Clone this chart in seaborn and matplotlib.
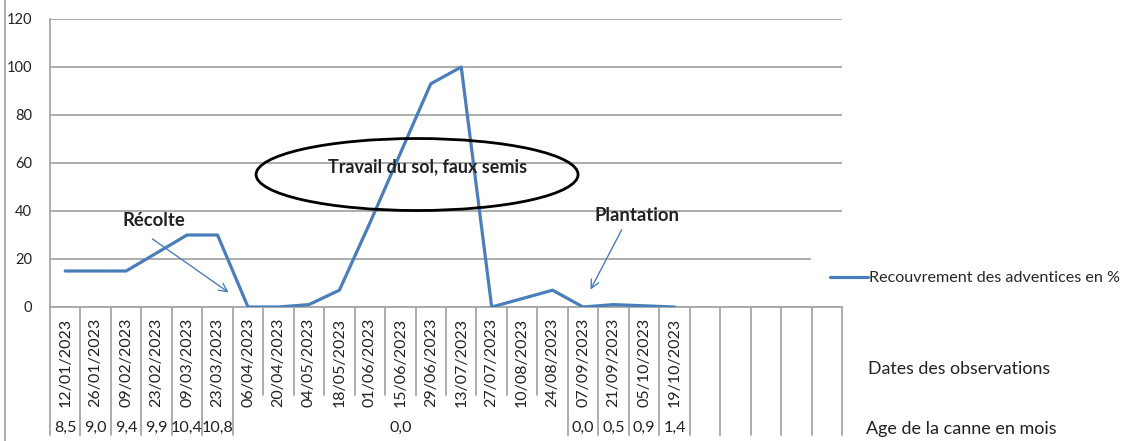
import pandas as pd
import matplotlib
matplotlib.use("Agg")
import matplotlib.pyplot as plt
import matplotlib.transforms as mtrans
from matplotlib.patches import Ellipse
import seaborn as sns

# data
dates = ["12/01/2023", "26/01/2023", "09/02/2023", "23/02/2023", "09/03/2023",
         "23/03/2023", "06/04/2023", "20/04/2023", "04/05/2023", "18/05/2023",
         "01/06/2023", "15/06/2023", "29/06/2023", "13/07/2023", "27/07/2023",
         "10/08/2023", "24/08/2023", "07/09/2023", "21/09/2023", "05/10/2023",
         "19/10/2023"]
recouvrement = [15, 15, 15, 22.5, 30, 30, 0, 0, 1, 7, 35, 64, 93, 100, 0,
                3.5, 7, 0, 1, 0.5, 0]
n_empty = 5  # empty category slots after the last date
age_before = ["8,5", "9,0", "9,4", "9,9", "10,4", "10,8"]
age_merged = "0,0"
age_after = ["0,0", "0,5", "0,9", "1,4"]
series_name = "Recouvrement des adventices en %"

sns.set_style("white")
plt.rcParams["font.family"] = ["Lato", "DejaVu Sans"]

W, H = 1121, 441
fig = plt.figure(figsize=(W / 100, H / 100), dpi=100)
ax = fig.add_axes([50 / W, (H - 307) / H, 792 / W, 288 / H])

df = pd.DataFrame({"pos": range(len(dates)), "val": recouvrement})
sns.lineplot(data=df, x="pos", y="val", ax=ax, color="#4A7EBB", lw=2.3,
             label=series_name, zorder=3)

n_cat = len(dates) + n_empty
ax.set_xlim(-0.5, n_cat - 0.5)
ax.set_ylim(0, 120)
ax.set_yticks(range(0, 121, 20))
ax.grid(axis="y", color="#A6A6A6", lw=1.3)
ax.grid(axis="x", visible=False)
for s in ["top", "right"]:
    ax.spines[s].set_visible(False)
ax.spines["left"].set_color("#A6A6A6")
ax.spines["bottom"].set_color("#A6A6A6")
ax.spines["left"].set_lw(1.3)
ax.spines["bottom"].set_lw(1.3)
ax.tick_params(axis="y", length=5, color="#A6A6A6", width=1.3, labelsize=10.5,
               labelcolor="#222222", pad=8)
ax.set_xlabel("")
ax.set_ylabel("")

# date labels
ax.set_xticks(range(len(dates)))
ax.set_xticklabels(dates, rotation=90, fontsize=11.5, color="#222222", va="top")
ax.tick_params(axis="x", length=0, pad=8)

# category separators below the axis
bt = mtrans.blended_transform_factory(ax.transData, ax.transAxes)
full = -0.445
short = -0.306
n_before = len(age_before)
n_dates = len(dates)
for i in range(n_cat + 1):
    b = i - 0.5
    if i <= n_before or i >= n_dates - len(age_after):
        y0 = full
    else:
        y0 = short
    ax.plot([b, b], [0, y0], transform=bt, color="#A6A6A6", lw=1.3,
            clip_on=False, zorder=1)

# age row
age_y = -0.42
for i, a in enumerate(age_before):
    ax.text(i, age_y, a, transform=bt, ha="center", va="center", fontsize=11.6,
            color="#222222")
mid = (n_before + (n_dates - len(age_after)) - 1) / 2
ax.text(mid, age_y, age_merged, transform=bt, ha="center", va="center",
        fontsize=11.6, color="#222222")
for j, a in enumerate(age_after):
    ax.text(n_dates - len(age_after) + j, age_y, a, transform=bt, ha="center",
            va="center", fontsize=11.6, color="#222222")

fig.text(868 / W, 1 - 369 / H, "Dates des observations", fontsize=12.8,
         va="center", ha="left", color="#222222")
fig.text(866 / W, 1 - 429 / H, "Age de la canne en mois", fontsize=13,
         va="center", ha="left", color="#222222")

# annotations
ax.add_patch(Ellipse((11.55, 55.2), 10.57, 30, fill=False, ec="black", lw=2,
                     zorder=4))
ax.text(11.9, 58.5, "Travail du sol, faux semis", ha="center", va="center",
        fontsize=12.9, fontweight="bold", color="#222222", zorder=5)
ax.text(2.9, 36, "Récolte", ha="center", va="center", fontsize=13.3,
        fontweight="bold", color="#222222")
ax.annotate("", xy=(5.44, 5.4), xytext=(2.79, 29),
            arrowprops=dict(arrowstyle="->,head_length=0.6,head_width=0.3",
                            color="#4A7EBB", lw=1))
ax.text(18.77, 38.2, "Plantation", ha="center", va="center", fontsize=13.3,
        fontweight="bold", color="#222222")
ax.annotate("", xy=(17.2, 6.2), xytext=(18.31, 33.2),
            arrowprops=dict(arrowstyle="->,head_length=0.6,head_width=0.3",
                            color="#4A7EBB", lw=1))

# legend
leg = ax.legend(loc="center left", bbox_to_anchor=(811 / W, 1 - 278 / H),
                bbox_transform=fig.transFigure, frameon=True, fontsize=11.6,
                handlelength=2.36, handletextpad=0.08, borderpad=1.18,
                borderaxespad=0, fancybox=False)
leg.get_frame().set_facecolor("white")
leg.get_frame().set_edgecolor("none")
leg.get_frame().set_alpha(1)

# left border of the chart area
fig.add_artist(plt.Line2D([5 / W, 5 / W], [0, 1], transform=fig.transFigure,
                          color="#A6A6A6", lw=1.3))

fig.savefig("out.png", dpi=100)
